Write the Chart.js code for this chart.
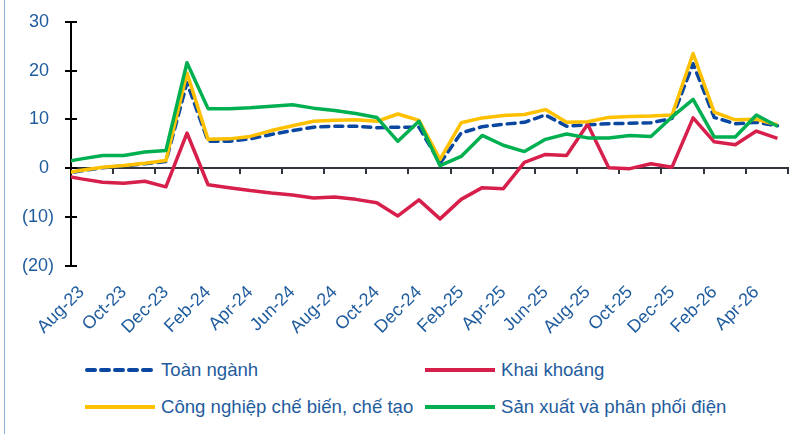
<!DOCTYPE html>
<html><head><meta charset="utf-8">
<script src="https://cdn.jsdelivr.net/npm/chart.js@4.4.1/dist/chart.umd.min.js"></script>
<style>
html,body{margin:0;padding:0;background:#fff;}
#wrap{position:relative;width:790px;height:434px;overflow:hidden;font-family:"Liberation Sans",Arial,sans-serif;}
#edge{position:absolute;left:4px;top:0;width:1px;height:434px;background:#8EB0D4;}
#box{position:absolute;left:0;top:0;width:790px;height:345px;}
.lg{position:absolute;display:flex;align-items:center;height:22px;font-size:18.6px;color:#1F5C9E;white-space:nowrap;}
.lg svg{margin-right:6px;}
</style></head><body>
<div id="wrap"><div id="box"><canvas id="c"></canvas></div><div id="legend"></div><div id="edge"></div></div>
<script>
// Categories (monthly, Jul-23 .. May-26); Jul-23 only feeds the clipped line stub at the left edge
const months = ['Jul-23','Aug-23','Sep-23','Oct-23','Nov-23','Dec-23',
  'Jan-24','Feb-24','Mar-24','Apr-24','May-24','Jun-24','Jul-24','Aug-24','Sep-24','Oct-24','Nov-24','Dec-24',
  'Jan-25','Feb-25','Mar-25','Apr-25','May-25','Jun-25','Jul-25','Aug-25','Sep-25','Oct-25','Nov-25','Dec-25',
  'Jan-26','Feb-26','Mar-26','Apr-26','May-26'];
const seriesNames = ['Toàn ngành','Khai khoáng','Công nghiệp chế biến, chế tạo','Sản xuất và phân phối điện'];
const toanNganh   = [-1.25,-0.55,0.1,0.5,0.9,1.35,17.5,5.5,5.5,6.0,6.9,7.7,8.4,8.6,8.6,8.3,8.4,8.4,1.0,7.2,8.5,9.0,9.4,10.9,8.6,8.9,9.1,9.2,9.3,10.2,21.4,10.4,9.1,9.4,8.7];
const khaiKhoang  = [-1.4,-2.2,-2.9,-3.1,-2.7,-3.85,7.2,-3.4,-4.0,-4.6,-5.1,-5.5,-6.1,-5.9,-6.4,-7.1,-9.8,-6.5,-10.4,-6.4,-4.0,-4.2,1.2,2.8,2.6,9.0,0.1,-0.1,0.9,0.2,10.3,5.4,4.8,7.6,6.1];
const congNghiep  = [-1.15,-0.45,0.2,0.55,1.0,1.55,19.5,5.9,6.0,6.5,7.7,8.7,9.6,9.8,9.9,9.6,11.1,9.8,1.8,9.3,10.3,10.8,11.0,12.0,9.4,9.5,10.4,10.6,10.7,10.9,23.5,11.5,9.9,10.0,8.9];
const sanXuatDien = [1.1,1.9,2.6,2.6,3.3,3.6,21.6,12.2,12.2,12.4,12.7,13.0,12.3,11.8,11.2,10.4,5.5,9.6,0.5,2.4,6.7,4.7,3.4,5.9,7.0,6.2,6.2,6.7,6.5,10.5,14.1,6.4,6.4,10.9,8.6];
// Tick labels: every second month from Aug-23 to Apr-26
const tickLabels = ['Aug-23','Oct-23','Dec-23','Feb-24','Apr-24','Jun-24','Aug-24','Oct-24','Dec-24',
  'Feb-25','Apr-25','Jun-25','Aug-25','Oct-25','Dec-25','Feb-26','Apr-26'];
const yTicks = [-20,-10,0,10,20,30];

const labelPos = tickLabels.map(l => months.indexOf(l));
const markPos = labelPos.map(p => p - 0.5).concat([labelPos[labelPos.length-1] + 1.5]);
const xMin = 0.5, xMax = months.length - 0.5;

const colors = ['#0A47A0','#D71F4B','#FFC000','#00B050'];
const seriesData = [toanNganh, khaiKhoang, congNghiep, sanXuatDien];
const FONT = {family:'"Liberation Sans", Arial, sans-serif', size:18};
const TXT = '#1F5C9E';

const datasets = seriesData.map((arr, i) => ({
  label: seriesNames[i],
  data: arr.map((v, j) => ({x: j, y: v})),
  borderColor: colors[i],
  backgroundColor: colors[i],
  borderWidth: 3.5,
  borderDash: i === 0 ? [8, 6] : [],
  borderCapStyle: i === 0 ? 'round' : 'butt',
  borderJoinStyle: 'round',
  pointRadius: 0,
  tension: 0,
  clip: 0,
  order: 3 - i
}));

const innerTicks = {
  id: 'innerTicks',
  afterDraw(chart) {
    const y = chart.scales.y, ctx = chart.ctx;
    ctx.save();
    ctx.strokeStyle = '#000'; ctx.lineWidth = 2;
    y.ticks.forEach((t, i) => {
      const py = Math.round(y.getPixelForTick(i));
      ctx.beginPath(); ctx.moveTo(y.right, py); ctx.lineTo(y.right + 6, py); ctx.stroke();
    });
    ctx.restore();
  }
};

new Chart(document.getElementById('c'), {
  type: 'line',
  data: { datasets },
  options: {
    responsive: true, maintainAspectRatio: false, animation: false,
    layout: { padding: { top: 18, right: 2, left: 0, bottom: 0 } },
    plugins: { legend: { display: false }, tooltip: { enabled: false } },
    scales: {
      x: {
        type: 'linear', position: 'bottom', min: xMin, max: xMax,
        afterBuildTicks(s) { s.ticks = labelPos.map(v => ({value: v})); },
        afterFit(s) { s.height = 79.3; },
        grid: { display: false, drawTicks: false },
        border: { display: false },
        ticks: { autoSkip: false, maxRotation: 45, minRotation: 45, padding: 16, color: TXT, font: FONT,
          callback: (v) => months[v] }
      },
      x2: {
        type: 'linear', axis: 'x', position: { y: 0 }, min: xMin, max: xMax,
        afterBuildTicks(s) { s.ticks = markPos.map(v => ({value: v})); },
        afterFit(s) { s.height = 0; },
        ticks: { display: false },
        grid: { drawOnChartArea: false, color: '#30343C', lineWidth: 2, tickLength: 5 },
        border: { color: '#30343C', width: 2 }
      },
      y: {
        type: 'linear', min: -20, max: 30,
        afterBuildTicks(s) { s.ticks = yTicks.map(v => ({value: v})); },
        afterFit(s) { s.width = 71; },
        grid: { drawOnChartArea: false, color: '#000', lineWidth: 2, tickLength: 6 },
        border: { color: '#000', width: 2 },
        ticks: { padding: 11, color: TXT, font: FONT,
          callback: (v) => v < 0 ? '(' + (-v) + ')' : v + ' ' }
      }
    }
  },
  plugins: [innerTicks]
});

// HTML legend in two columns
const lg = document.getElementById('legend');
seriesNames.forEach((name, i) => {
  const d = document.createElement('div');
  d.className = 'lg';
  d.style.left = (85 + (i % 2) * 340) + 'px';
  d.style.top = (359 + Math.floor(i / 2) * 37) + 'px';
  const dash = i === 0 ? 'stroke-dasharray="8 6" stroke-linecap="round"' : 'stroke-linecap="butt"';
  d.innerHTML = '<svg width="70" height="8"><line x1="' + (i === 0 ? 2 : 0) + '" y1="4" x2="' + (i === 0 ? 68 : 70) + '" y2="4" stroke="' + colors[i] + '" stroke-width="4" ' + dash + '/></svg><span>' + name + '</span>';
  lg.appendChild(d);
});
</script>
</body></html>
